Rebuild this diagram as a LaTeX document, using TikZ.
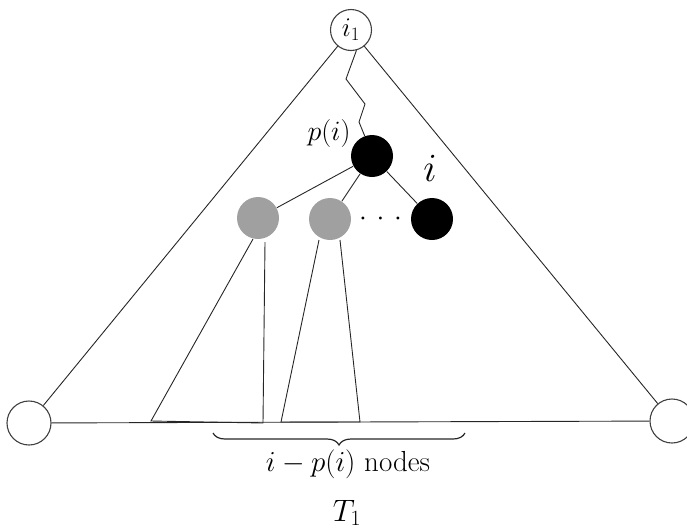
\RequirePackage{fix-cm}
\documentclass[tikz,border=0pt]{standalone}
\usetikzlibrary{decorations.pathreplacing}
\definecolor{nodegray}{HTML}{A0A0A0}
\begin{document}
\begin{tikzpicture}[x=1pt,y=-1pt,
  line width=0.9pt,
  txt/.style={font=\fontsize{29}{33}\selectfont, inner sep=0pt},
  bigtxt/.style={font=\fontsize{40}{44}\selectfont, inner sep=0pt},
  opennode/.style={circle, draw=black!75, line width=1.1pt, fill=white, minimum size=42pt, inner sep=0pt},
  blacknode/.style={circle, fill=black, minimum size=42pt, inner sep=0pt},
  graynode/.style={circle, fill=nodegray, minimum size=42pt, inner sep=0pt},
  edge/.style={line width=0.9pt, draw=black!85}]
\useasboundingbox (0,0) rectangle (687,531);
\clip (0,0) rectangle (687,531);

% nodes
\node[opennode, minimum size=41pt, font=\fontsize{27}{30}\selectfont] (top) at (351,30) {$i_1$};
\node[opennode, minimum size=44pt] (bl) at (29,423) {};
\node[opennode, minimum size=44pt] (br) at (672,421) {};
\node[blacknode] (p) at (372,156) {};
\node[blacknode] (i) at (432,219) {};
\node[graynode] (g1) at (258,218) {};
\node[graynode] (g2) at (330,219) {};
\node[font=\fontsize{28}{32}\selectfont, inner sep=0pt] (dots) at (380.5,219) {${\cdot}\hspace{9.7pt}{\cdot}\hspace{9.7pt}{\cdot}$};

% labels
\node[font=\fontsize{28}{32}\selectfont, inner sep=0pt] (plabel) at (329,133) {$p(i)$};
\node[bigtxt] (ilabel) at (430,168) {$i$};

% triangle
\draw[edge] (bl) -- (top);
\draw[edge] (top) -- (br);
\draw[edge] (bl) -- (br);

% zigzag path from i1 to p(i)
\coordinate (z1) at (346,79);
\coordinate (z2) at (365,104);
\coordinate (z3) at (359,122);
\draw[edge] (top.-75) -- (z1) -- (z2) -- (z3) -- (p.110);

% tree edges
\draw[edge] (p) -- (g1);
\draw[edge] (p) -- (g2);
\draw[edge] (p) -- (i);

% subtrees
\coordinate (a1) at (253,239);
\coordinate (a2) at (265,242);
\coordinate (a3) at (151,421);
\coordinate (a4) at (263,423);
\draw[edge] (a1) -- (a3) -- (a4) -- (a2);

\coordinate (b1) at (319,240);
\coordinate (b2) at (340,240);
\coordinate (b3) at (281,422);
\coordinate (b4) at (360,422);
\draw[edge] (b1) -- (b3) -- (b4) -- (b2);

% brace
\coordinate (br1) at (213,433);
\coordinate (br2) at (465,433);
\draw[edge, line width=1.2pt, decorate, decoration={brace, mirror, amplitude=12pt}] (br1) -- (br2);
\node[txt] (count) at (348,464) {$i-p(i)$ nodes};
\node[font=\fontsize{31}{35}\selectfont, inner sep=0pt, anchor=base] (T) at (347,521) {$T_1$};
\end{tikzpicture}
\end{document}
